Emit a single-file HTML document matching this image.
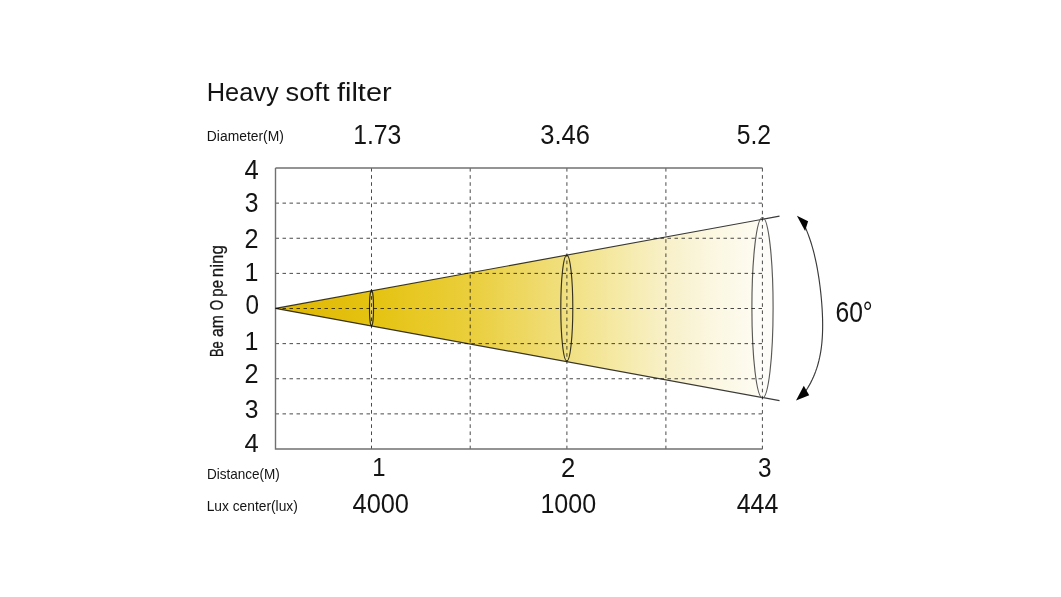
<!DOCTYPE html>
<html><head><meta charset="utf-8"><style>
html,body{margin:0;padding:0;background:#fff;width:1061px;height:597px;overflow:hidden;font-family:"Liberation Sans",sans-serif;}
svg{display:block;}
</style></head><body>
<svg width="1061" height="597" viewBox="0 0 1061 597">
<defs>
<linearGradient id="g" gradientUnits="userSpaceOnUse" x1="275.5" y1="0" x2="762.5" y2="0">
<stop offset="0" stop-color="#dfb604"/>
<stop offset="0.2" stop-color="#e5c311"/>
<stop offset="0.4" stop-color="#eace3c"/>
<stop offset="0.58" stop-color="#f0de7a"/>
<stop offset="0.7" stop-color="#f5e9a5"/>
<stop offset="0.8" stop-color="#f8f0c8"/>
<stop offset="0.9" stop-color="#fbf7e1"/>
<stop offset="1" stop-color="#fefcf4"/>
</linearGradient>
</defs>
<rect width="1061" height="597" fill="#ffffff"/>
<polygon points="275.5,308.4 762.5,219.28 762.5,397.52" fill="url(#g)"/>
<ellipse cx="762.5" cy="307.7" rx="10.6" ry="90.2" fill="#fdfcf8" stroke="none"/>
<ellipse cx="371.5" cy="308" rx="2" ry="18" fill="rgba(255,255,255,0.3)"/>
<g stroke="#4a4a4a" stroke-width="1" fill="none" style="mix-blend-mode:multiply">
<line x1="275.5" y1="203.125" x2="762.5" y2="203.125" stroke-dasharray="3.5 3.5"/>
<line x1="275.5" y1="238.25" x2="762.5" y2="238.25" stroke-dasharray="3.5 3.5"/>
<line x1="275.5" y1="273.375" x2="762.5" y2="273.375" stroke-dasharray="3.5 3.5"/>
<line x1="275.5" y1="308.5" x2="762.5" y2="308.5" stroke-dasharray="3.5 3.5"/>
<line x1="275.5" y1="343.625" x2="762.5" y2="343.625" stroke-dasharray="3.5 3.5"/>
<line x1="275.5" y1="378.75" x2="762.5" y2="378.75" stroke-dasharray="3.5 3.5"/>
<line x1="275.5" y1="413.875" x2="762.5" y2="413.875" stroke-dasharray="3.5 3.5"/>
<line x1="371.5" y1="168.0" x2="371.5" y2="449.0" stroke-dasharray="3.6 3.52"/>
<line x1="470.2" y1="168.0" x2="470.2" y2="449.0" stroke-dasharray="3.6 3.52"/>
<line x1="566.9" y1="168.0" x2="566.9" y2="449.0" stroke-dasharray="3.6 3.52"/>
<line x1="665.9" y1="168.0" x2="665.9" y2="449.0" stroke-dasharray="3.6 3.52"/>
<line x1="762.4" y1="168.0" x2="762.4" y2="449.0" stroke-dasharray="3.6 3.52"/>
</g>
<g stroke="#707070" stroke-width="1.4" fill="none">
<polyline points="275.5,168.0 762.5,168.0"/>
<polyline points="275.5,168.0 275.5,449.0 762.5,449.0"/>
</g>
<g stroke="#3a3a3a" stroke-width="1.15" fill="none" style="mix-blend-mode:multiply">
<line x1="275.5" y1="308.4" x2="779.5" y2="216.17"/>
<line x1="275.5" y1="308.4" x2="779.5" y2="400.63"/>
<ellipse cx="371.5" cy="308" rx="2" ry="18"/>
<ellipse cx="566.8" cy="308" rx="6" ry="53"/>
<ellipse cx="762.5" cy="307.7" rx="10.6" ry="90.2" stroke="#5a5a5a"/>
<path d="M804.68,226.00 L805.91,228.80 L807.07,231.59 L808.16,234.39 L809.19,237.19 L810.15,239.98 L811.06,242.78 L811.91,245.58 L812.71,248.37 L813.47,251.17 L814.18,253.97 L814.85,256.76 L815.49,259.56 L816.09,262.36 L816.65,265.15 L817.18,267.95 L817.68,270.75 L818.16,273.54 L818.61,276.34 L819.03,279.14 L819.43,281.93 L819.80,284.73 L820.16,287.53 L820.49,290.32 L820.80,293.12 L821.08,295.92 L821.35,298.71 L821.59,301.51 L821.81,304.31 L822.01,307.10 L822.18,309.90 L822.33,312.69 L822.45,315.49 L822.55,318.29 L822.61,321.08 L822.64,323.88 L822.64,326.68 L822.61,329.47 L822.53,332.27 L822.42,335.07 L822.26,337.86 L822.05,340.66 L821.80,343.46 L821.49,346.25 L821.12,349.05 L820.70,351.85 L820.20,354.64 L819.64,357.44 L819.01,360.24 L818.30,363.03 L817.51,365.83 L816.62,368.63 L815.65,371.42 L814.58,374.22 L813.40,377.02 L812.11,379.81 L810.71,382.61 L809.19,385.41 L807.54,388.20 L805.75,391.00"/>
</g>
<g fill="#050505">
<polygon points="796.9,215.8 808.1,221.2 805.1,230.9"/>
<polygon points="796.0,400.6 803.8,385.7 809.2,395.3"/>
</g>
<g font-family="Liberation Sans, sans-serif">
<text x="206.72" y="101.10" font-size="26.02" textLength="71.93" lengthAdjust="spacingAndGlyphs" fill="#141414">Heavy</text>
<text x="285.54" y="101.10" font-size="26.02" textLength="43.96" lengthAdjust="spacingAndGlyphs" fill="#141414">soft</text>
<text x="336.99" y="101.10" font-size="26.02" textLength="54.59" lengthAdjust="spacingAndGlyphs" fill="#141414">filter</text>
<text x="206.86" y="141.20" font-size="13.95" textLength="77.00" lengthAdjust="spacingAndGlyphs" fill="#141414">Diameter(M)</text>
<text x="353.21" y="143.60" font-size="28.07" textLength="48.17" lengthAdjust="spacingAndGlyphs" fill="#141414">1.73</text>
<text x="540.23" y="143.60" font-size="28.07" textLength="49.69" lengthAdjust="spacingAndGlyphs" fill="#141414">3.46</text>
<text x="736.71" y="143.60" font-size="28.07" textLength="34.33" lengthAdjust="spacingAndGlyphs" fill="#141414">5.2</text>
<text x="244.41" y="178.50" font-size="27.04" textLength="14.24" lengthAdjust="spacingAndGlyphs" fill="#141414">4</text>
<text x="244.86" y="212.22" font-size="28.25" textLength="13.72" lengthAdjust="spacingAndGlyphs" fill="#141414">3</text>
<text x="244.53" y="248.00" font-size="27.21" textLength="14.04" lengthAdjust="spacingAndGlyphs" fill="#141414">2</text>
<text x="244.59" y="281.00" font-size="26.31" textLength="13.93" lengthAdjust="spacingAndGlyphs" fill="#141414">1</text>
<text x="245.45" y="314.23" font-size="27.97" textLength="13.50" lengthAdjust="spacingAndGlyphs" fill="#141414">0</text>
<text x="244.59" y="350.00" font-size="26.60" textLength="13.93" lengthAdjust="spacingAndGlyphs" fill="#141414">1</text>
<text x="244.53" y="383.30" font-size="26.78" textLength="14.04" lengthAdjust="spacingAndGlyphs" fill="#141414">2</text>
<text x="244.86" y="418.24" font-size="26.55" textLength="13.72" lengthAdjust="spacingAndGlyphs" fill="#141414">3</text>
<text x="244.41" y="452.00" font-size="26.60" textLength="14.24" lengthAdjust="spacingAndGlyphs" fill="#141414">4</text>
<text x="206.89" y="479.00" font-size="14.54" textLength="72.95" lengthAdjust="spacingAndGlyphs" fill="#141414">Distance(M)</text>
<text x="206.67" y="510.60" font-size="14.24" textLength="91.19" lengthAdjust="spacingAndGlyphs" fill="#141414">Lux center(lux)</text>
<text x="372.18" y="476.40" font-size="26.45" textLength="13.29" lengthAdjust="spacingAndGlyphs" fill="#141414">1</text>
<text x="561.01" y="476.70" font-size="27.35" textLength="14.28" lengthAdjust="spacingAndGlyphs" fill="#141414">2</text>
<text x="758.08" y="476.70" font-size="27.40" textLength="13.49" lengthAdjust="spacingAndGlyphs" fill="#141414">3</text>
<text x="352.52" y="513.00" font-size="26.78" textLength="56.47" lengthAdjust="spacingAndGlyphs" fill="#141414">4000</text>
<text x="540.39" y="513.00" font-size="26.78" textLength="55.68" lengthAdjust="spacingAndGlyphs" fill="#141414">1000</text>
<text x="736.73" y="512.80" font-size="26.89" textLength="41.60" lengthAdjust="spacingAndGlyphs" fill="#141414">444</text>
<text x="835.45" y="321.50" font-size="28.67" textLength="37.23" lengthAdjust="spacingAndGlyphs" fill="#141414">60°</text>
<g transform="translate(222.9,357) rotate(-90)" stroke="#141414" stroke-width="0.3"><text x="0.05" y="0.00" font-size="18.31" textLength="15.73" lengthAdjust="spacingAndGlyphs" fill="#141414">Be</text><text x="20.03" y="0.00" font-size="18.31" textLength="21.91" lengthAdjust="spacingAndGlyphs" fill="#141414">am</text><text x="46.67" y="0.00" font-size="18.31" textLength="10.37" lengthAdjust="spacingAndGlyphs" fill="#141414">O</text><text x="60.33" y="0.00" font-size="18.31" textLength="16.74" lengthAdjust="spacingAndGlyphs" fill="#141414">pe</text><text x="79.67" y="0.00" font-size="18.31" textLength="32.23" lengthAdjust="spacingAndGlyphs" fill="#141414">ning</text></g>
</g>
</svg>
</body></html>
